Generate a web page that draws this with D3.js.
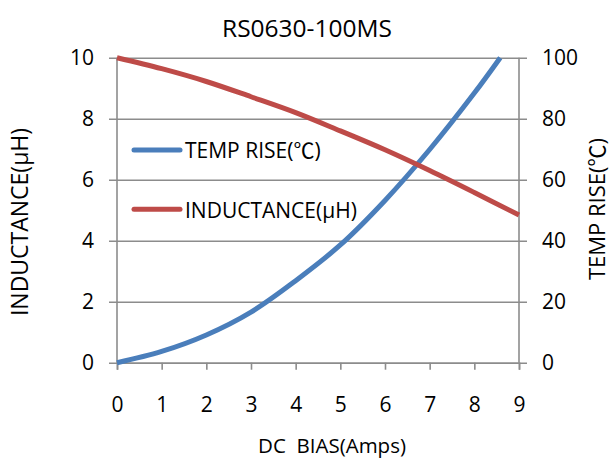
<!DOCTYPE html>
<html>
<head>
<meta charset="utf-8">
<script src="https://cdn.jsdelivr.net/npm/d3@7/dist/d3.min.js"></script>
<style>
  html, body { margin: 0; padding: 0; background: #fff; }
  svg { display: block; font-family: "Open Sans", "Noto Sans", sans-serif; }
</style>
</head>
<body>
<svg id="chart" width="615" height="464"></svg>
<script>
// ---- data ----
const title = "RS0630-100MS";
const xLabel = "DC  BIAS(Amps)";
const yLeftLabel = "INDUCTANCE(μH)";
const yRightLabelParts = ["TEMP RISE(", "℃", ")"];
const seriesNames = [["TEMP RISE(", "℃", ")"], ["INDUCTANCE(μH)", "", ""]];

const biasAmps = [0, 1, 2, 3, 4, 5, 6, 7, 8, 9];
const inductance = [10.0, 9.64, 9.22, 8.72, 8.2, 7.6, 6.98, 6.3, 5.58, 4.84];

const tempBias = [0, 1, 2, 3, 4, 5, 6, 7, 8, 8.58];
const tempRise = [0, 3.7, 9.1, 16.6, 26.9, 38.6, 53.2, 69.9, 88.4, 100];

const xTicks = [0, 1, 2, 3, 4, 5, 6, 7, 8, 9];
const yLeftTicks = [0, 2, 4, 6, 8, 10];
const yRightTicks = [0, 20, 40, 60, 80, 100];

// ---- layout ----
const svg = d3.select("#chart");
const pL = 117, pR = 519, pT = 57.7, pB = 362.7;
const gridColor = "#8c8c8c";
const blue = "#4A7EBB", red = "#BE4B48";
const cjk = "'Noto Sans CJK SC', sans-serif";

const x = d3.scaleLinear().domain([0, 9]).range([pL, pR]);
const yL = d3.scaleLinear().domain([0, 10]).range([pB, pT]);
const yR = d3.scaleLinear().domain([0, 100]).range([pB, pT]);

function addParts(textSel, parts) {
  parts.forEach((p, i) => {
    if (!p) return;
    const t = textSel.append("tspan").text(p);
    if (i === 1) t.attr("font-family", cjk);
  });
}

// title
svg.append("text").attr("x", 307).attr("y", 37).attr("text-anchor", "middle")
  .attr("font-size", 24.5).attr("fill", "#000").text(title);

// gridlines (with outward ticks on both sides)
const grid = svg.append("g").attr("transform", `translate(${pR + 8},0)`)
  .call(d3.axisLeft(yL).tickValues(yLeftTicks).tickSize(pR + 8 - (pL - 8)).tickFormat(""));
grid.select(".domain").remove();
grid.selectAll("line").attr("stroke", gridColor).attr("stroke-width", 1.6);

// vertical axis lines
[pL, pR].forEach(px => {
  svg.append("line").attr("x1", px).attr("x2", px).attr("y1", pT).attr("y2", pB)
    .attr("stroke", gridColor).attr("stroke-width", 1.6);
});

// left tick labels
const gl = svg.append("g").attr("transform", `translate(${pL - 8},0)`)
  .call(d3.axisLeft(yL).tickValues(yLeftTicks).tickSize(0).tickPadding(15));
gl.select(".domain").remove();
gl.selectAll("text").attr("font-size", 21).attr("fill", "#000").attr("font-family", "Open Sans");

// right tick labels
const gr = svg.append("g").attr("transform", `translate(${pR + 8},0)`)
  .call(d3.axisRight(yR).tickValues(yRightTicks).tickSize(0).tickPadding(15));
gr.select(".domain").remove();
gr.selectAll("text").attr("font-size", 21).attr("fill", "#000").attr("font-family", "Open Sans");

// x axis
const gx = svg.append("g").attr("transform", `translate(0,${pB})`)
  .call(d3.axisBottom(x).tickValues(xTicks).tickSize(7).tickPadding(27).tickFormat(d3.format("d")));
gx.select(".domain").attr("stroke", gridColor).attr("stroke-width", 1.6);
gx.selectAll("line").attr("stroke", gridColor).attr("stroke-width", 1.6);
gx.selectAll("text").attr("font-size", 21).attr("fill", "#000").attr("font-family", "Open Sans");

// axis titles
svg.append("text").attr("x", 332).attr("y", 453).attr("text-anchor", "middle")
  .attr("font-size", 20.5).attr("fill", "#000").style("white-space", "pre").text(xLabel);
svg.append("text").attr("transform", "translate(28,222) rotate(-90)").attr("text-anchor", "middle")
  .attr("font-size", 23).attr("fill", "#000").text(yLeftLabel);
const rl = svg.append("text").attr("transform", "translate(605,209) rotate(-90)").attr("text-anchor", "middle")
  .attr("font-size", 22).attr("fill", "#000");
addParts(rl, yRightLabelParts);

// lines
const lineInd = d3.line().x((d, i) => x(biasAmps[i])).y(d => yL(d)).curve(d3.curveCatmullRom.alpha(0.5));
const lineTemp = d3.line().x((d, i) => x(tempBias[i])).y(d => yR(d)).curve(d3.curveCatmullRom.alpha(0.5));

svg.append("path").datum(tempRise).attr("d", lineTemp).attr("fill", "none")
  .attr("stroke", blue).attr("stroke-width", 5);
svg.append("path").datum(inductance).attr("d", lineInd).attr("fill", "none")
  .attr("stroke", red).attr("stroke-width", 5);

// legend
const legendColors = [blue, red];
const legendY = [150, 209.3];
seriesNames.forEach((parts, i) => {
  svg.append("line").attr("x1", 134).attr("x2", 180).attr("y1", legendY[i]).attr("y2", legendY[i])
    .attr("stroke", legendColors[i]).attr("stroke-width", 5).attr("stroke-linecap", "round");
  const t = svg.append("text").attr("x", 185).attr("y", legendY[i] + 8.3)
    .attr("font-size", 21).attr("fill", "#000");
  addParts(t, parts);
});
</script>
</body>
</html>
